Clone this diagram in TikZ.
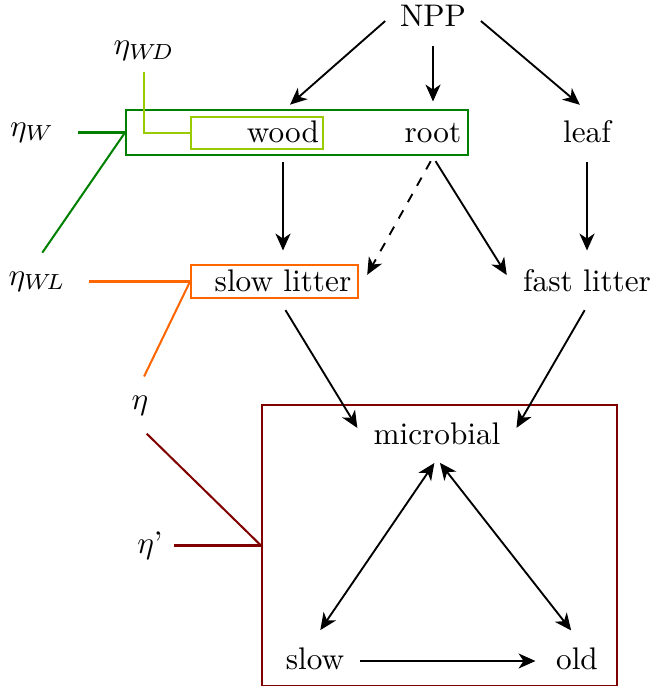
\documentclass[tikz,border=0pt]{standalone}
\usepackage{tikz}
\usetikzlibrary{arrows.meta}
\definecolor{woodgreen}{RGB}{0,128,0}
\definecolor{deadgreen}{RGB}{153,204,0}
\definecolor{slowcol}{RGB}{255,102,0}
\definecolor{soilred}{RGB}{128,0,0}

\begin{document}
\begin{tikzpicture}[->,>={Stealth[length=5.4pt,width=4.8pt,inset=1.6pt]},shorten >=3pt,shorten <=1.5pt,
  x=0.32pt,y=-0.32pt,semithick,
  pool node/.style={text height=1.5ex,text depth=.25ex},
  group box/.style={draw,rectangle,inner sep=0pt,line width=0.65pt},
  eta line/.style={-,shorten >=0pt,shorten <=0pt,line width=0.65pt}]
  \useasboundingbox (0,0) rectangle (652,686);
  % boxes round the pools
  \node[group box,woodgreen,minimum width=109.4pt,minimum height=14.4pt] (wbox) at (297,132.5) {};
  \node[group box,deadgreen,minimum width=42.2pt,minimum height=10.2pt] (wdbox) at (257,133) {};
  \node[group box,slowcol,minimum width=53.4pt,minimum height=10.6pt] (slbox) at (274.5,281.5) {};
  \node[group box,soilred,minimum width=113.6pt,minimum height=89.9pt] (mbox) at (439.5,545.5) {};
  % pools
  \node[pool node] (npp) at (433,18) {NPP};
  \node[pool node] (wood) at (283,134) {wood};
  \node[pool node] (root) at (433,134) {root};
  \node[pool node] (leaf) at (587,134) {leaf};
  \node[pool node] (slowlit) at (283,283) {slow litter};
  \node[pool node] (fastlit) at (587,283) {fast litter};
  \node[pool node] (micro) at (437,436) {microbial};
  \node[pool node] (slow) at (315,661) {slow};
  \node[pool node] (old) at (577,661) {old};
  % eta labels
  \node (etawd) at (144,51) {$\eta_{W\!D}$};
  \node (etaw) at (32,132.5) {$\eta_W$};
  \node (etawl) at (37,281.5) {$\eta_{W\!L}$};
  \node (eta) at (140,406) {$\eta$};
  \node (etap) at (150,545.5) {$\eta$'};
  \draw[eta line,deadgreen] (etawd.south) |- (wdbox.west);
  \draw[eta line,woodgreen,shorten <=4pt] (etaw.east) -- (wbox.west);
  \draw[eta line,woodgreen,shorten >=3pt] (wbox.west) -- (etawl.north);
  \draw[eta line,slowcol,shorten <=4pt] (etawl.east) -- (slbox.west);
  \draw[eta line,slowcol,shorten >=3pt] (slbox.west) -- (eta.north);
  \draw[eta line,soilred,shorten <=3pt] (eta.south) -- (mbox.west);
  \draw[eta line,soilred] (etap.east) -- (mbox.west);
  % fluxes
  \path (npp.west) edge (wood.north)
        (npp.south) edge (root.north)
        (npp.east) edge (leaf.north)
        (wood.south) edge (slowlit.north)
        (root.south) edge[dashed] (slowlit.east)
        (root.south) edge (fastlit.west)
        (leaf.south) edge (fastlit.north)
        (slowlit.south) edge (micro.west)
        (fastlit.south) edge (micro.east)
        (micro.south) edge[<->] (slow.north)
        (micro.south) edge[<->] (old.north)
        (slow.east) edge (old.west);
\end{tikzpicture}
\end{document}
